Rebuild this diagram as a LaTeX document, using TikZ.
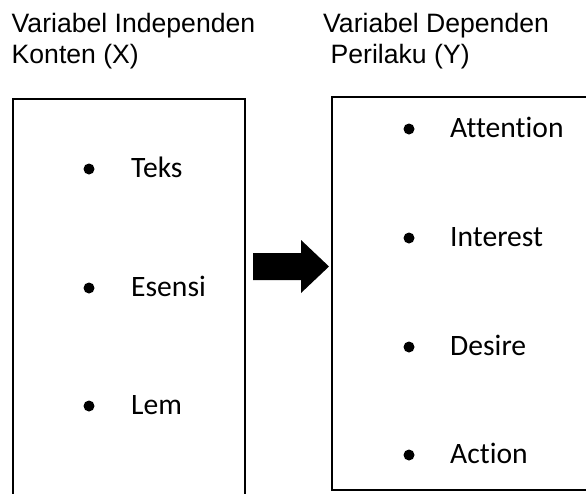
\documentclass[tikz,border=0pt]{standalone}
\usepackage{fontspec}
\setmainfont{Liberation Sans}
\newfontfamily\calib[Ligatures=CommonOff]{Carlito}
\begin{document}
\begin{tikzpicture}[x=1pt,y=-1pt,
  head/.style={anchor=base west,inner sep=0pt,font=\fontsize{26.6}{31}\selectfont},
  item/.style={anchor=base west,inner sep=0pt,font=\calib\fontsize{29.6}{35}\selectfont},
  dot/.style={circle,fill=black,inner sep=0pt,minimum size=11pt},
  frame/.style={draw=black,line width=2pt}]
\useasboundingbox (0,0) rectangle (586,493);
\clip (0,0) rectangle (586,493);
% headers
\node[head] (hx1) at (11.5,32) {Variabel Independen};
\node[head] (hx2) at (11.5,63) {Konten (X)};
\node[head] (hy1) at (323,32) {Variabel Dependen};
\node[head] (hy2) at (330.5,63) {Perilaku (Y)};
% boxes
\draw[frame] (13,99) rectangle (245,510);
\draw[frame] (332,97) rectangle (600,490);
% left items
\node[dot] (d1) at (89,169) {};
\node[item] (t1) at (131,177) {Teks};
\node[dot] (d2) at (89,288) {};
\node[item] (t2) at (131,296) {Esensi};
\node[dot] (d3) at (89,406) {};
\node[item] (t3) at (131,414) {Lem};
% right items
\node[dot] (e1) at (409,129) {};
\node[item] (u1) at (450,137) {Attention};
\node[dot] (e2) at (409,238) {};
\node[item] (u2) at (450,246) {Interest};
\node[dot] (e3) at (409,347) {};
\node[item] (u3) at (450,355) {Desire};
\node[dot] (e4) at (409,455) {};
\node[item] (u4) at (450,463) {Action};
% arrow
\fill[black] (253,253) -- (301,253) -- (301,240) -- (329,266.5) -- (301,293) -- (301,280) -- (253,280) -- cycle;
\end{tikzpicture}
\end{document}
